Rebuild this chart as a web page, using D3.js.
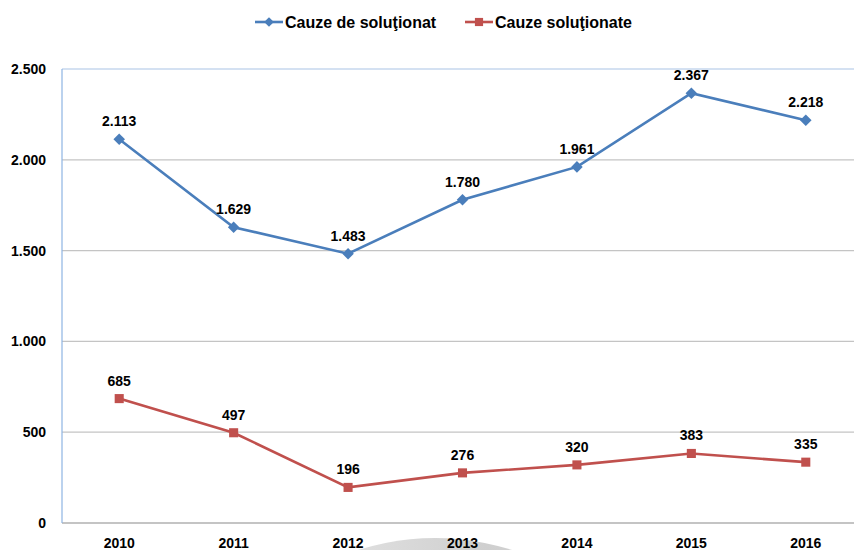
<!DOCTYPE html>
<html>
<head>
<meta charset="utf-8">
<script src="https://cdn.jsdelivr.net/npm/d3@7"></script>
<style>
  body { margin: 0; background: #fff; }
  text { font-family: "Liberation Sans", Arial, sans-serif; font-weight: bold; fill: #000; }
</style>
</head>
<body>
<div id="chart"></div>
<script>
// values
const years = ["2010", "2011", "2012", "2013", "2014", "2015", "2016"];
const deSolutionat = [2113, 1629, 1483, 1780, 1961, 2367, 2218];
const solutionate = [685, 497, 196, 276, 320, 383, 335];
const yTicks = [0, 500, 1000, 1500, 2000, 2500];
const seriesNames = ["Cauze de soluţionat", "Cauze soluţionate"];

const width = 854, height = 550;
const margin = {top: 69, right: -9, bottom: 27, left: 62};

const svg = d3.select("#chart").append("svg")
    .attr("width", width)
    .attr("height", height);

const x = d3.scaleBand()
    .domain(years)
    .range([margin.left, width - margin.right]);

const y = d3.scaleLinear()
    .domain([0, 2500])
    .range([height - margin.bottom, margin.top]);

const fmt = v => d3.format(",")(v).replace(/,/g, ".");

// faint watermark disc behind the x labels
const grad = svg.append("defs").append("linearGradient")
    .attr("id", "wm").attr("x1", "0").attr("x2", "1");
grad.append("stop").attr("offset", "0").attr("stop-color", "#f4f4f4");
grad.append("stop").attr("offset", "0.6").attr("stop-color", "#cfcfcf");
grad.append("stop").attr("offset", "1").attr("stop-color", "#dcdcdc");
svg.append("circle")
    .attr("cx", 435).attr("cy", 792).attr("r", 254)
    .attr("fill", "url(#wm)");

// gridlines
svg.append("g")
    .selectAll("line")
    .data(yTicks.filter(d => d > 0))
    .join("line")
    .attr("x1", margin.left).attr("x2", width)
    .attr("y1", d => y(d)).attr("y2", d => y(d))
    .attr("stroke", d => d === 2500 ? "#a9c4e6" : "#c4c4c4")
    .attr("stroke-width", 1.2);

// x axis line
svg.append("line")
    .attr("x1", margin.left).attr("x2", width)
    .attr("y1", y(0)).attr("y2", y(0))
    .attr("stroke", "#c4c4c4")
    .attr("stroke-width", 2);

// y axis line
svg.append("line")
    .attr("x1", margin.left).attr("x2", margin.left)
    .attr("y1", y(2500)).attr("y2", y(0))
    .attr("stroke", "#8eb4e3")
    .attr("stroke-width", 1.2);

// y tick labels
svg.append("g")
    .selectAll("text")
    .data(yTicks)
    .join("text")
    .attr("x", 46)
    .attr("y", d => y(d))
    .attr("dy", "0.35em")
    .attr("text-anchor", "end")
    .style("font-size", "14px")
    .text(d => fmt(d));

// x tick labels
svg.append("g")
    .selectAll("text")
    .data(years)
    .join("text")
    .attr("x", d => x(d) + x.bandwidth() / 2)
    .attr("y", 548)
    .attr("text-anchor", "middle")
    .style("font-size", "14px")
    .text(d => d);

const line = d3.line()
    .x((d, i) => x(years[i]) + x.bandwidth() / 2)
    .y(d => y(d));

function drawSeries(values, color, shape) {
    const g = svg.append("g");
    g.append("path")
        .datum(values)
        .attr("d", line)
        .attr("fill", "none")
        .attr("stroke", color)
        .attr("stroke-width", 2.6);
    g.selectAll(".mk")
        .data(values)
        .join("path")
        .attr("transform", (d, i) => `translate(${x(years[i]) + x.bandwidth() / 2},${y(d)})`)
        .attr("d", shape === "diamond"
            ? d3.symbol(d3.symbolDiamond2, 85)()
            : d3.symbol(d3.symbolSquare2, 105)())
        .attr("fill", color);
    g.selectAll("text")
        .data(values)
        .join("text")
        .attr("x", (d, i) => x(years[i]) + x.bandwidth() / 2)
        .attr("y", d => y(d) - 13)
        .attr("text-anchor", "middle")
        .style("font-size", "14px")
        .text(d => fmt(d));
}

drawSeries(deSolutionat, "#4a7ebb", "diamond");
drawSeries(solutionate, "#c0504d", "square");

// legend
const legend = [
    {name: seriesNames[0], color: "#4a7ebb", shape: d3.symbolDiamond2, size: 60, x: 255},
    {name: seriesNames[1], color: "#c0504d", shape: d3.symbolSquare2, size: 85, x: 465}
];
const lg = svg.append("g").selectAll("g")
    .data(legend)
    .join("g")
    .attr("transform", d => `translate(${d.x},22)`);
lg.append("line")
    .attr("x1", 0).attr("x2", 28)
    .attr("stroke", d => d.color)
    .attr("stroke-width", 2.6);
lg.append("path")
    .attr("transform", "translate(14,0)")
    .attr("d", d => d3.symbol(d.shape, d.size)())
    .attr("fill", d => d.color);
lg.append("text")
    .attr("x", 30)
    .attr("dy", "0.35em")
    .style("font-size", "16px")
    .text(d => d.name);
</script>
</body>
</html>
